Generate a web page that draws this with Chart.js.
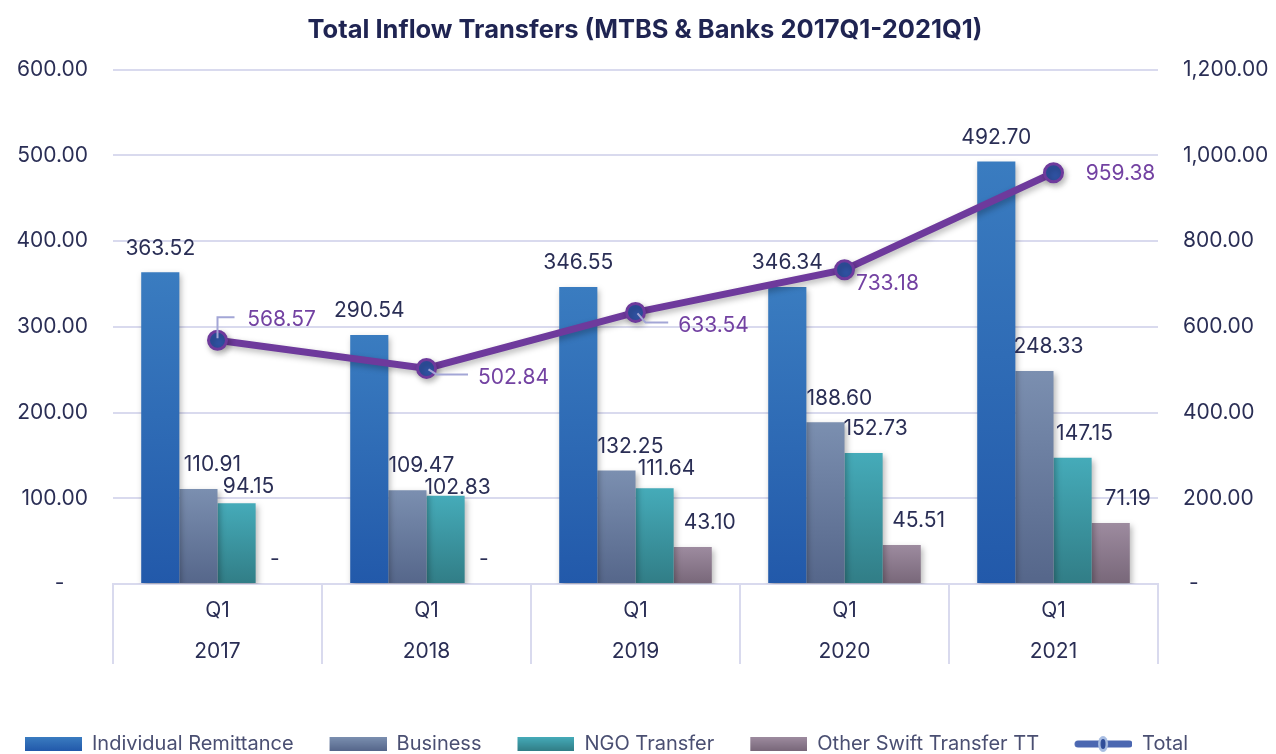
<!DOCTYPE html>
<html>
<head>
<meta charset="utf-8">
<script src="https://cdn.jsdelivr.net/npm/chart.js@4.4.1/dist/chart.umd.min.js"></script>
<style>
  html, body { margin: 0; padding: 0; background: #fff; }
  #wrap { width: 1276px; height: 754px; }
</style>
</head>
<body>
<div id="wrap"><canvas id="chart"></canvas></div>
<script>
// values in millions
const quarters = ['Q1', 'Q1', 'Q1', 'Q1', 'Q1'];
const years = ['2017', '2018', '2019', '2020', '2021'];
const individualRemittance = [363.52, 290.54, 346.55, 346.34, 492.70];
const business = [110.91, 109.47, 132.25, 188.60, 248.33];
const ngoTransfer = [94.15, 102.83, 111.64, 152.73, 147.15];
const otherSwift = [0, 0, 43.10, 45.51, 71.19];
const total = [568.57, 502.84, 633.54, 733.18, 959.38];

const leftTicks = [0, 100, 200, 300, 400, 500, 600];
const rightTicks = [0, 200, 400, 600, 800, 1000, 1200];

const FONT = 'Inter, Lato, sans-serif';
const TEXT = '#2a2e55';
const GRID = '#d9daee';
const PURPLE = '#6e3a9c';

// top / bottom gradient colours per bar series
const barColors = [
    ['#3a7cc0', '#2259aa'],
    ['#7b8fb0', '#55668a'],
    ['#45abb9', '#317d86'],
    ['#9d8b9f', '#786779']
];

function fmt(v) {
    return v.toLocaleString('en-US', { minimumFractionDigits: 2, maximumFractionDigits: 2 });
}

function barGradient(seriesIdx) {
    return function (context) {
        const chart = context.chart;
        const y = chart.scales.y;
        if (!y || context.raw === undefined) return barColors[seriesIdx][0];
        const top = y.getPixelForValue(context.raw);
        const bottom = y.getPixelForValue(0);
        if (!isFinite(top) || bottom - top < 1) return barColors[seriesIdx][0];
        const g = chart.ctx.createLinearGradient(0, top, 0, bottom);
        g.addColorStop(0, barColors[seriesIdx][0]);
        g.addColorStop(1, barColors[seriesIdx][1]);
        return g;
    };
}

// legend swatches: transparent gap on the left gives the spacing between items
function swatch(i) {
    const c = document.createElement('canvas');
    c.width = 89; c.height = 18;
    const x = c.getContext('2d');
    if (i < 4) {
        const g = x.createLinearGradient(0, 2, 0, 16);
        g.addColorStop(0, barColors[i][0]);
        g.addColorStop(1, barColors[i][1]);
        x.fillStyle = g;
        x.fillRect(32, 2, 57, 14);
    } else {
        x.strokeStyle = '#4b67b1';
        x.lineWidth = 7;
        x.lineCap = 'round';
        x.beginPath(); x.moveTo(35, 9); x.lineTo(86, 9); x.stroke();
        x.fillStyle = '#a8bde2';
        x.beginPath(); x.ellipse(60, 9, 5, 8, 0, 0, Math.PI * 2); x.fill();
        x.fillStyle = '#2f4d99';
        x.beginPath(); x.ellipse(60, 9, 2.5, 5, 0, 0, Math.PI * 2); x.fill();
    }
    return c;
}

const shadowPlugin = {
    id: 'shadow',
    beforeDatasetDraw(chart) {
        const ctx = chart.ctx;
        ctx.save();
        ctx.shadowColor = 'rgba(0,0,0,0.28)';
        ctx.shadowBlur = 6;
        ctx.shadowOffsetX = 2;
        ctx.shadowOffsetY = 3;
    },
    afterDatasetDraw(chart) {
        chart.ctx.restore();
    }
};

// nudges for the value labels (like manually placed labels in the original)
const barLabelShift = [0, 14, 12, 17];
const lineLabelShift = [[64, -21], [87, 9], [78, 13], [43, 14], [67, 1]];

const labelPlugin = {
    id: 'valueLabels',
    afterDatasetsDraw(chart) {
        const ctx = chart.ctx;
        ctx.save();
        ctx.font = '21px ' + FONT;
        ctx.textAlign = 'center';
        ctx.textBaseline = 'middle';
        // bar labels, pushed down when they would collide with the previous one in the group
        const n = chart.data.labels.length;
        for (let j = 0; j < n; j++) {
            let prev = null;
            for (let d = 0; d < 4; d++) {
                const el = chart.getDatasetMeta(d).data[j];
                const v = chart.data.datasets[d].data[j];
                const txt = v === 0 ? '-' : fmt(v);
                const x = el.x + (v === 0 ? 0 : barLabelShift[d]);
                let y = el.y - 24;
                const w = ctx.measureText(txt).width;
                if (prev && Math.abs(prev.x - x) < (prev.w + w) / 2 && y < prev.y + 22 && y > prev.y - 22) {
                    y = prev.y + 22;
                }
                ctx.fillStyle = TEXT;
                ctx.fillText(txt, x, y);
                prev = { x, y, w };
            }
        }
        // total labels
        const meta = chart.getDatasetMeta(4);
        meta.data.forEach((pt, j) => {
            const [dx, dy] = lineLabelShift[j];
            const tx = pt.x + dx, ty = pt.y + dy;
            const w = ctx.measureText(fmt(total[j])).width;
            ctx.strokeStyle = '#a3a6d6';
            ctx.lineWidth = 2;
            if (j === 0) {
                ctx.beginPath();
                ctx.moveTo(pt.x, pt.y - 2); ctx.lineTo(pt.x, ty - 2); ctx.lineTo(pt.x + 17, ty - 2);
                ctx.stroke();
            } else if (j === 1 || j === 2) {
                ctx.beginPath();
                ctx.moveTo(pt.x + 2, pt.y + 1); ctx.lineTo(pt.x + 10, ty - 3); ctx.lineTo(tx - w / 2 - 10, ty - 3);
                ctx.stroke();
            }
            ctx.fillStyle = '#7342a2';
            ctx.fillText(fmt(total[j]), tx, ty);
        });
        ctx.restore();
    }
};

new Chart(document.getElementById('chart'), {
    type: 'bar',
    data: {
        labels: quarters.map((q, i) => [q, years[i]]),
        datasets: [
            { label: 'Individual Remittance', data: individualRemittance, backgroundColor: barGradient(0), order: 1 },
            { label: 'Business', data: business, backgroundColor: barGradient(1), order: 1 },
            { label: 'NGO Transfer', data: ngoTransfer, backgroundColor: barGradient(2), order: 1 },
            { label: 'Other Swift Transfer TT', data: otherSwift, backgroundColor: barGradient(3), order: 1 },
            {
                type: 'line', label: 'Total', data: total, yAxisID: 'y1', order: 0,
                borderColor: PURPLE, borderWidth: 7, tension: 0,
                pointRadius: 9, pointHoverRadius: 9,
                pointBackgroundColor: '#2f52a2', pointBorderColor: PURPLE, pointBorderWidth: 3
            }
        ]
    },
    options: {
        responsive: true,
        maintainAspectRatio: false,
        animation: false,
        layout: { padding: { left: -11, right: -25, top: 0, bottom: -10 } },
        datasets: { bar: { barPercentage: 1, categoryPercentage: 0.73 } },
        plugins: {
            title: {
                display: true,
                text: 'Total Inflow Transfers (MTBS & Banks 2017Q1-2021Q1)',
                color: '#1f2452',
                font: { family: FONT, size: 25.5, weight: 'bold' },
                padding: { top: 15, bottom: 24 }
            },
            legend: {
                position: 'bottom',
                align: 'start',
                labels: {
                    usePointStyle: true,
                    pointStyleWidth: 89,
                    boxHeight: 18,
                    padding: 4,
                    color: '#4a4f72',
                    font: { family: FONT, size: 20 },
                    generateLabels(chart) {
                        return chart.data.datasets.map((ds, i) => ({
                            text: ds.label,
                            pointStyle: swatch(i),
                            fillStyle: 'transparent',
                            strokeStyle: 'transparent',
                            lineWidth: 0,
                            fontColor: '#4a4f72',
                            datasetIndex: i,
                            hidden: false
                        }));
                    }
                }
            },
            tooltip: { enabled: false }
        },
        scales: {
            x: {
                grid: { display: true, drawOnChartArea: false, drawTicks: true, tickLength: 80, color: GRID, lineWidth: 2, offset: true },
                border: { color: GRID, width: 2 },
                ticks: { color: TEXT, font: { family: FONT, size: 21, lineHeight: 1.95 }, padding: -74 },
                afterFit(scale) { scale.height = 146; }
            },
            y: {
                position: 'left',
                min: 0, max: 600,
                afterBuildTicks(scale) { scale.ticks = leftTicks.map(v => ({ value: v })); },
                afterFit(scale) { scale.width = 124; },
                grid: { color: GRID, lineWidth: 2, drawTicks: false },
                border: { display: false },
                ticks: {
                    color: TEXT, font: { family: FONT, size: 21 }, padding: 25,
                    callback: v => v === 0 ? '-    ' : fmt(v)
                }
            },
            y1: {
                position: 'right',
                min: 0, max: 1200,
                afterBuildTicks(scale) { scale.ticks = rightTicks.map(v => ({ value: v })); },
                afterFit(scale) { scale.width = 143; },
                grid: { drawOnChartArea: false, drawTicks: false },
                border: { display: false },
                ticks: {
                    color: TEXT, font: { family: FONT, size: 21 }, padding: 25,
                    callback: v => v === 0 ? ' -' : fmt(v)
                }
            }
        }
    },
    plugins: [shadowPlugin, labelPlugin]
});
</script>
</body>
</html>
